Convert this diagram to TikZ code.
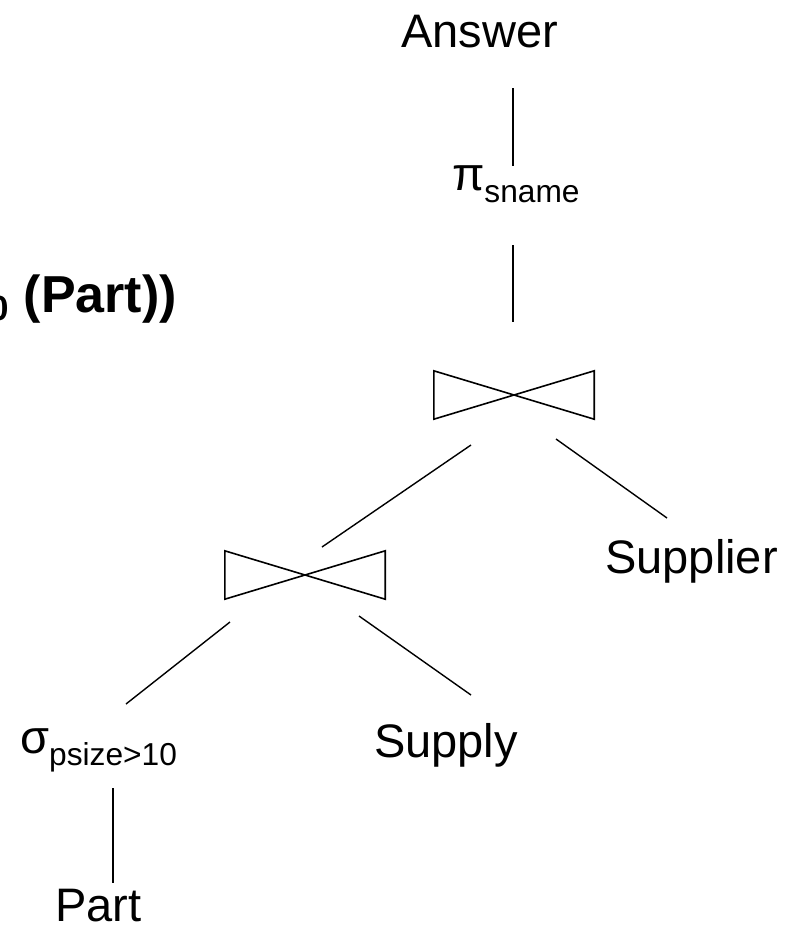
\documentclass[tikz,border=0pt]{standalone}
\usepackage{fontspec}
\setmainfont{Liberation Sans}
\newcommand{\bigtxt}{\fontsize{47}{56}\selectfont}
\newcommand{\subtxt}{\fontsize{31.7}{38}\selectfont}
\newcommand{\lowsub}[1]{\raisebox{-12pt}{\subtxt #1}}
\begin{document}
\begin{tikzpicture}[x=1pt,y=-1pt,
  lbl/.style={inner sep=0pt, outer sep=0pt, font=\bigtxt},
  edge/.style={line width=1.4pt, line cap=butt},
  bowtie/.style={line width=1.6pt, line join=miter},
  joinbox/.style={rectangle, minimum width=160pt, minimum height=48pt, inner sep=0pt}]
\useasboundingbox (0,0) rectangle (797,927);

% labels
\node[lbl, anchor=base] (answer) at (479.5,47) {Answer};
\node[lbl, anchor=base west] (pi) at (452,190) {π\lowsub{sname}};
\node[lbl, anchor=base] (supplier) at (691.5,573) {Supplier};
\node[lbl, anchor=base] (supply) at (446,757) {Supply};
\node[lbl, anchor=base east] (sigma) at (177,753) {σ\lowsub{psize>10}};
\node[lbl, anchor=base] (part) at (98.5,921) {Part};
\node[inner sep=0pt, anchor=base east, font={\fontsize{52}{60}\selectfont\bfseries}] (query) at (177,312)
  {\raisebox{-8pt}{\fontsize{35}{40}\selectfont\bfseries 0} (Part))};

% join operators
\node[joinbox] (j1) at (514,395) {};
\node[joinbox] (j2) at (305,575) {};
\draw[bowtie] (j1.north west) -- (j1.south east) -- (j1.north east) -- (j1.south west) -- cycle;
\draw[bowtie] (j2.north west) -- (j2.south east) -- (j2.north east) -- (j2.south west) -- cycle;

% connector end points
\coordinate (c1a) at (513,88);  \coordinate (c1b) at (513,166);
\coordinate (c2a) at (513,245); \coordinate (c2b) at (513,322);
\coordinate (c3a) at (471,445); \coordinate (c3b) at (322,547);
\coordinate (c4a) at (556,439); \coordinate (c4b) at (667,518);
\coordinate (c5a) at (230,622); \coordinate (c5b) at (126,704);
\coordinate (c6a) at (359,616); \coordinate (c6b) at (471,695);
\coordinate (c7a) at (113,788); \coordinate (c7b) at (113,883);

\draw[edge] (c1a) -- (c1b);
\draw[edge] (c2a) -- (c2b);
\draw[edge] (c3a) -- (c3b);
\draw[edge] (c4a) -- (c4b);
\draw[edge] (c5a) -- (c5b);
\draw[edge] (c6a) -- (c6b);
\draw[edge] (c7a) -- (c7b);
\end{tikzpicture}
\end{document}
